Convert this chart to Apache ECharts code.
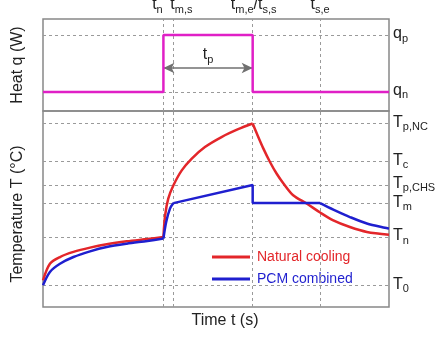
<!DOCTYPE html>
<html>
<head>
<meta charset="utf-8">
<script src="https://cdn.jsdelivr.net/npm/echarts@6/dist/echarts.min.js"></script>
<style>
    html, body { margin: 0; padding: 0; background: #fff; }
    #chart { width: 438px; height: 338px; }
</style>
</head>
<body>
<div id="chart"></div>
<script>
// 时间标记 t_n, t_m,s, t_m,e/t_s,s, t_s,e
var timeMarks = [34.8, 37.7, 60.6, 80.1];
var timeMarkLabels = ['{m|t}{s|n}', '{m|t}{s|m,s}', '{m|t}{s|m,e}{m|/t}{s|s,s}', '{m|t}{s|s,e}'];
var timeMarkOffsets = [-6, 8, 1, 0];

// 热量水平 q_p, q_n
var heatLevels = [82.6, 20.7];
var heatLevelLabels = ['{m|q}{s|p}', '{m|q}{s|n}'];
var heatTime = [0, 34.8, 34.8, 60.6, 60.6, 100];
var heatValue = [20.7, 20.7, 82.6, 82.6, 20.7, 20.7];
var pulseArrowY = 46.7;

// 温度水平
var tempLevels = [93.6, 74.3, 62.3, 53.0, 35.7, 11.1];
var tempLevelLabels = ['{m|T}{s|p,NC}', '{m|T}{s|c}', '{m|T}{s|p,CHS}', '{m|T}{s|m}', '{m|T}{s|n}', '{m|T}{s|0}'];

// Natural cooling
var ncWarmup = [[0, 13.6], [2.0, 22.1], [4.9, 25.5], [8.8, 28.1], [13.6, 30.3], [18.4, 32.0], [24.2, 33.5], [30.2, 34.7], [34.8, 35.7]];
var ncHeating = [[34.8, 35.7], [35.3, 46.8], [36.2, 55.3], [37.7, 62.1], [40.1, 69.7], [43.0, 75.7], [46.8, 81.6], [51.6, 86.7], [56.4, 90.7], [60.6, 93.6]];
var ncCooling = [[60.6, 93.6], [61.8, 88.5], [63.7, 80.8], [65.6, 74.0], [67.5, 68.1], [69.5, 63.0], [72.3, 57.0], [76.2, 52.8], [80.1, 48.2], [83.9, 44.2], [88.7, 40.8], [93.6, 38.3], [100, 36.9]];

// PCM combined
var pcmWarmup = [[0, 11.1], [2.0, 17.9], [4.9, 22.1], [8.8, 25.5], [13.6, 28.4], [18.4, 30.6], [24.2, 32.3], [30.2, 33.7], [34.8, 34.9]];
var pcmSensible = [[34.8, 34.9], [35.6, 43.4], [36.7, 50.2], [37.7, 53.0]];
var pcmMelting = [[37.7, 53.0], [60.6, 62.2], [60.6, 53.0], [80.1, 53.0]];
var pcmCooling = [[80.1, 53.0], [83.9, 49.7], [88.7, 45.9], [93.6, 42.6], [100, 40.0]];

var RED = '#e3262a';
var BLUE = '#1f1fcf';
var MAGENTA = '#e020c6';
var DASH = '#9a9a9a';
var FONT = 'Liberation Sans';

var richText = {
    m: {fontSize: 16, fontFamily: FONT, color: '#222', padding: [0, 0, 2, 0], verticalAlign: 'bottom'},
    s: {fontSize: 11, fontFamily: FONT, color: '#222', verticalAlign: 'bottom'}
};

var dashStyle = {type: [3, 3], color: DASH, width: 1};

var vLines = function (withLabel) {
    var arr = [];
    for (var i = 0; i < timeMarks.length; i++) {
        arr.push({
            xAxis: timeMarks[i],
            label: {
                show: withLabel,
                position: 'end',
                distance: 4,
                offset: [timeMarkOffsets[i], 0],
                formatter: timeMarkLabels[i],
                rich: richText
            }
        });
    }
    return arr;
};

var hLines = function (levels, labels) {
    var arr = [];
    for (var i = 0; i < levels.length; i++) {
        arr.push({
            yAxis: levels[i],
            label: {show: true, position: 'end', distance: 4, formatter: labels[i], rich: richText}
        });
    }
    return arr;
};

var heatData = [];
for (var i = 0; i < heatTime.length; i++) {
    heatData.push([heatTime[i], heatValue[i]]);
}

var curve = function (name, color, data, smooth) {
    return {
        name: name,
        type: 'line',
        xAxisIndex: 1,
        yAxisIndex: 1,
        data: data,
        smooth: smooth,
        showSymbol: false,
        z: 10,
        lineStyle: {color: color, width: 2.5},
        itemStyle: {color: color}
    };
};

var myChart = echarts.init(document.getElementById('chart'));
var option = {
    animation: false,
    backgroundColor: '#fff',
    grid: [
        {left: 43, right: 49, top: 19, height: 92, show: true, borderColor: '#888', borderWidth: 1.5},
        {left: 43, right: 49, top: 111, height: 196, show: true, borderColor: '#888', borderWidth: 1.5}
    ],
    xAxis: [
        {gridIndex: 0, type: 'value', min: 0, max: 100, show: false},
        {
            gridIndex: 1, type: 'value', min: 0, max: 100,
            name: 'Time t (s)', nameLocation: 'middle', nameGap: 6,
            nameTextStyle: {fontSize: 16, fontFamily: FONT, color: '#222', padding: [0, 0, 0, 18]},
            axisLine: {show: false}, axisTick: {show: false}, axisLabel: {show: false}, splitLine: {show: false}
        }
    ],
    yAxis: [
        {
            gridIndex: 0, type: 'value', min: 0, max: 100,
            name: 'Heat q (W)', nameLocation: 'middle', nameGap: 17,
            nameTextStyle: {fontSize: 16, fontFamily: FONT, color: '#222'},
            axisLine: {show: false}, axisTick: {show: false}, axisLabel: {show: false}, splitLine: {show: false}
        },
        {
            gridIndex: 1, type: 'value', min: 0, max: 100,
            name: 'Temperature T (°C)', nameLocation: 'middle', nameGap: 17,
            nameTextStyle: {fontSize: 16, fontFamily: FONT, color: '#222', padding: [0, 10, 0, 0]},
            axisLine: {show: false}, axisTick: {show: false}, axisLabel: {show: false}, splitLine: {show: false}
        }
    ],
    legend: {
        left: 207,
        top: 245,
        orient: 'vertical',
        icon: 'rect',
        itemWidth: 38,
        itemHeight: 3,
        itemGap: 8,
        textStyle: {fontSize: 14, fontFamily: FONT, padding: [0, 0, 0, 2]},
        data: [
            {name: 'Natural cooling', textStyle: {color: RED}},
            {name: 'PCM combined', textStyle: {color: BLUE}}
        ]
    },
    series: [
        // 上图虚线
        {
            type: 'line', xAxisIndex: 0, yAxisIndex: 0, data: [], silent: true,
            markLine: {
                silent: true, symbol: ['none', 'none'], animation: false,
                lineStyle: dashStyle,
                data: vLines(true).concat(hLines(heatLevels, heatLevelLabels))
            }
        },
        // 下图虚线
        {
            type: 'line', xAxisIndex: 1, yAxisIndex: 1, data: [], silent: true,
            markLine: {
                silent: true, symbol: ['none', 'none'], animation: false,
                lineStyle: dashStyle,
                data: vLines(false).concat(hLines(tempLevels, tempLevelLabels))
            }
        },
        // 热量脉冲
        {
            type: 'line', xAxisIndex: 0, yAxisIndex: 0, data: heatData, showSymbol: false, z: 10,
            lineStyle: {color: MAGENTA, width: 2.5},
            markLine: {
                silent: true, animation: false,
                symbol: ['arrow', 'arrow'], symbolSize: [8, 11],
                lineStyle: {type: 'solid', color: '#707070', width: 1.5},
                label: {show: true, position: 'insideMiddleTop', distance: 3, formatter: '{m|t}{s|p}', rich: richText},
                data: [[{coord: [timeMarks[0], pulseArrowY]}, {coord: [timeMarks[2], pulseArrowY]}]]
            }
        },
        curve('Natural cooling', RED, ncWarmup, 0.3),
        curve('Natural cooling', RED, ncHeating, 0.3),
        curve('Natural cooling', RED, ncCooling, 0.3),
        curve('PCM combined', BLUE, pcmWarmup, 0.3),
        curve('PCM combined', BLUE, pcmSensible, 0.3),
        curve('PCM combined', BLUE, pcmMelting, false),
        curve('PCM combined', BLUE, pcmCooling, 0.3)
    ]
};
myChart.setOption(option);
</script>
</body>
</html>
